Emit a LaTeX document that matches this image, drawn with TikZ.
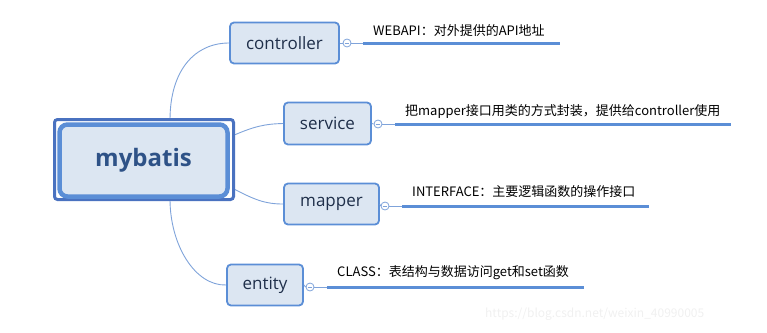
\documentclass[tikz,border=0pt]{standalone}
\usepackage{fontspec}
\setmainfont{Noto Sans CJK SC}
\newfontfamily\boxfont{Open Sans}
\usetikzlibrary{calc}
\definecolor{boxfill}{HTML}{DCE6F2}
\definecolor{boxline}{HTML}{5B8ED6}
\definecolor{outerline}{HTML}{4A72C0}
\definecolor{conline}{HTML}{7FA3DA}
\definecolor{txt}{HTML}{1F2F4A}
\definecolor{maintxt}{HTML}{2E5287}
\tikzset{
  topic/.style={draw=boxline, fill=boxfill, line width=1.8pt, rounded corners=4pt,
    inner sep=0pt, font=\boxfont\fontsize{17}{19}\selectfont, text=txt},
  con/.style={draw=conline, line width=0.9pt},
  under/.style={draw=boxline, line width=3pt},
  note/.style={anchor=west, inner sep=0pt, font=\fontsize{13}{15}\selectfont, text=black},
  knob/.style={circle, draw=conline, fill=white, line width=0.8pt, minimum size=8pt, inner sep=0pt},
}
\begin{document}
\begin{tikzpicture}[x=1pt,y=-1pt]
\useasboundingbox (0,0) rectangle (767,332);
\coordinate (mtop) at (170,120);
\coordinate (mright1) at (232,136);
\coordinate (mright2) at (232,188);
\coordinate (mbot) at (170,199);
% topics
\node[topic, minimum width=109pt, minimum height=41pt] (ctrl) at (284.5,43) {controller};
\node[topic, minimum width=87pt, minimum height=42pt] (serv) at (327.5,123.5) {service};
\node[topic, minimum width=95pt, minimum height=41pt] (mapp) at (331.5,204) {mapper};
\node[topic, minimum width=76pt, minimum height=41pt] (enti) at (265,285) {entity};
% curves
\draw[con] (mtop) .. controls (170,70) and (195,43) .. (ctrl.west);
\draw[con] (mright1) .. controls (255,126) and (265,124) .. (serv.west);
\draw[con] (mright2) .. controls (255,200) and (265,204) .. (mapp.west);
\draw[con] (mbot) .. controls (170,245) and (195,286) .. (enti.west);
% main
\node[draw=outerline, fill=white, line width=3pt, rounded corners=3pt, minimum width=179pt, minimum height=80pt, inner sep=0pt] (mainouter) at (144,159.5) {};
\node[draw=boxline, fill=boxfill, line width=4.5pt, rounded corners=8pt, minimum width=168pt, minimum height=72pt, inner sep=0pt, font=\boxfont\bfseries\fontsize{24}{28}\selectfont, text=maintxt] (main) at (143.5,160.5) {mybatis};
% knobs and underlines
\node[knob] (k1) at (347,43) {};
\node[knob] (k2) at (378,124) {};
\node[knob] (k3) at (385,206) {};
\node[knob] (k4) at (310,287) {};
\foreach \k in {k1,k2,k3,k4}{\draw[conline, line width=0.8pt] ($(\k.center)+(-2.3,0)$) -- ($(\k.center)+(2.3,0)$);}
\coordinate (e1) at (560,43);
\coordinate (e2) at (731,124);
\coordinate (e3) at (649,206);
\coordinate (e4) at (584,287);
\draw[con] (ctrl.east) -- (k1.west);
\draw[con] (serv.east) -- (k2.west);
\draw[con] (mapp.east) -- (k3.west);
\draw[con] (enti.east) -- (k4.west);
\draw[con] (k1.east) -- ($(k1.east)+(12,0)$) coordinate (s1);
\draw[con] (k2.east) -- ($(k2.east)+(13,0)$) coordinate (s2);
\draw[con] (k3.east) -- ($(k3.east)+(13,0)$) coordinate (s3);
\draw[con] (k4.east) -- ($(k4.east)+(13,0)$) coordinate (s4);
\draw[under] (s1) -- (e1);
\draw[under] (s2) -- (e2);
\draw[under] (s3) -- (e3);
\draw[under] (s4) -- (e4);
% notes
\node[note] (n1) at (373,31) {WEBAPI：对外提供的API地址};
\node[note] (n2) at (405,111) {把mapper接口用类的方式封装，提供给controller使用};
\node[note] (n3) at (412,192) {INTERFACE：主要逻辑函数的操作接口};
\node[note] (n4) at (337,273) {CLASS：表结构与数据访问get和set函数};
% watermark
\node[anchor=west, inner sep=0pt, text=black!6, font=\fontsize{12}{14}\selectfont] (wm) at (485,314) {https://blog.csdn.net/weixin\_40990005};
\end{tikzpicture}
\end{document}
